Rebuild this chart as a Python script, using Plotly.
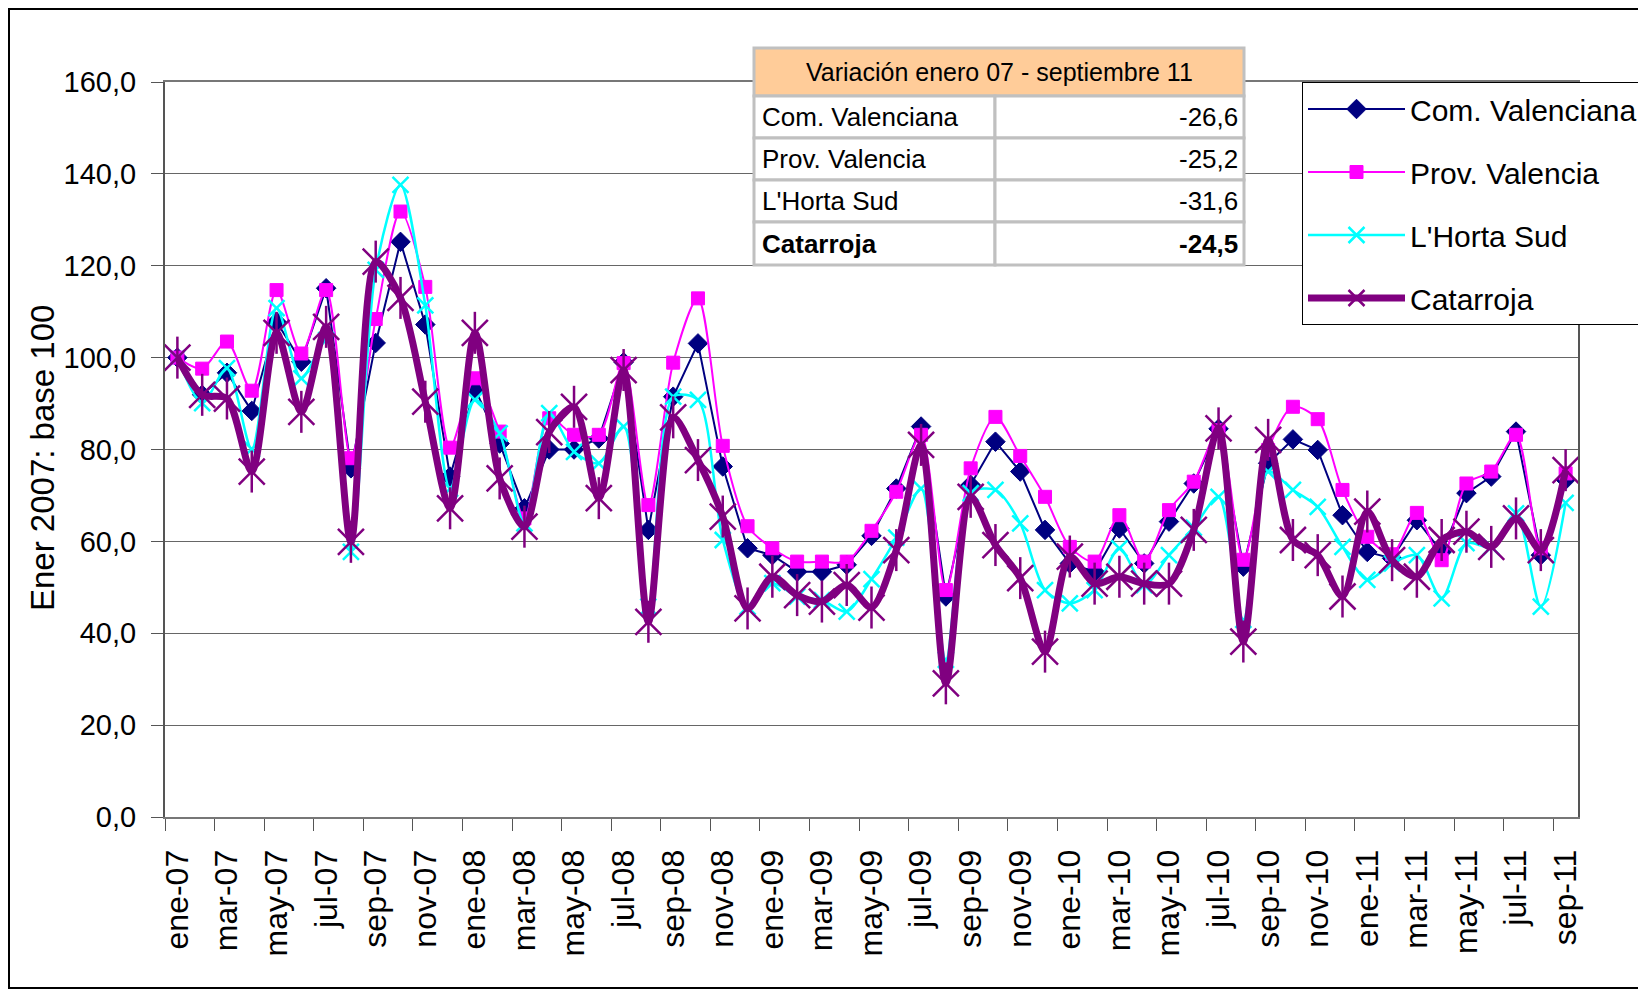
import plotly.graph_objects as go

# categorías (meses) y series
meses = [
    "ene-07", "feb-07", "mar-07", "abr-07", "may-07", "jun-07", "jul-07", "ago-07", "sep-07", "oct-07", "nov-07", "dic-07",
    "ene-08", "feb-08", "mar-08", "abr-08", "may-08", "jun-08", "jul-08", "ago-08", "sep-08", "oct-08", "nov-08", "dic-08",
    "ene-09", "feb-09", "mar-09", "abr-09", "may-09", "jun-09", "jul-09", "ago-09", "sep-09", "oct-09", "nov-09", "dic-09",
    "ene-10", "feb-10", "mar-10", "abr-10", "may-10", "jun-10", "jul-10", "ago-10", "sep-10", "oct-10", "nov-10", "dic-10",
    "ene-11", "feb-11", "mar-11", "abr-11", "may-11", "jun-11", "jul-11", "ago-11", "sep-11",
]

com_valenciana = [
    100.0, 91.9, 96.7, 88.4, 107.8, 99.1, 115.1, 75.9, 103.2, 125.2, 107.2, 74.1,
    93.3, 81.3, 67.2, 80.0, 80.0, 82.4, 99.0, 62.5, 91.5, 103.1, 76.3, 58.5,
    57.0, 53.4, 53.4, 54.9, 61.2, 71.5, 85.0, 48.0, 72.3, 81.7, 75.2, 62.5,
    55.2, 53.4, 62.8, 55.2, 64.3, 72.6, 84.5, 54.5, 77.0, 82.2, 79.9, 65.7,
    57.7, 56.3, 64.6, 57.7, 70.5, 74.1, 83.9, 57.0, 73.4,
]
prov_valencia = [
    100.0, 97.6, 103.5, 92.8, 114.7, 100.9, 114.7, 78.1, 108.4, 131.8, 115.4, 80.4,
    95.5, 83.9, 65.0, 86.8, 83.2, 83.2, 98.8, 67.9, 98.9, 112.9, 80.8, 63.3,
    58.5, 55.6, 55.6, 55.6, 62.3, 70.8, 83.2, 49.4, 75.9, 87.1, 78.6, 69.7,
    58.8, 55.6, 65.7, 55.6, 66.8, 73.0, 84.2, 56.0, 79.9, 89.3, 86.6, 71.2,
    61.0, 57.2, 66.2, 55.9, 72.6, 75.2, 83.2, 58.5, 74.8,
]
horta_sud = [
    100.0, 90.1, 97.7, 80.1, 110.8, 95.5, 103.8, 57.7, 119.1, 137.6, 111.4, 71.5,
    90.8, 83.5, 63.9, 87.9, 79.5, 77.0, 85.0, 45.8, 91.5, 90.8, 60.3, 45.8,
    50.9, 48.0, 47.2, 44.7, 51.8, 60.8, 71.5, 34.2, 70.5, 71.2, 63.9, 49.4,
    46.5, 49.4, 58.5, 50.5, 57.0, 63.0, 69.7, 42.9, 75.2, 71.2, 67.5, 58.8,
    51.6, 55.2, 57.0, 47.6, 59.6, 58.8, 66.1, 45.8, 68.4,
]
catarroja = [
    100.0, 91.9, 91.1, 75.2, 105.4, 88.2, 106.7, 59.9, 120.9, 113.0, 90.4, 67.2,
    105.4, 73.7, 63.2, 83.8, 89.3, 69.4, 97.3, 42.5, 87.0, 77.7, 65.4, 45.4,
    52.3, 48.3, 46.9, 50.5, 45.6, 58.1, 81.0, 29.1, 69.7, 59.2, 52.0, 36.0,
    56.7, 50.8, 52.3, 50.8, 50.8, 62.5, 84.6, 38.2, 82.1, 60.3, 57.0, 48.0,
    66.5, 55.9, 52.3, 60.3, 62.1, 58.8, 65.0, 58.1, 75.5,
]

# tabla de variación
tabla_titulo = "Variación enero 07 - septiembre 11"
tabla_nombres = ["Com. Valenciana", "Prov. Valencia", "L'Horta Sud", "Catarroja"]
tabla_valores = ["-26,6", "-25,2", "-31,6", "-24,5"]

# la página añade 8px de margen al body: todo se mide en px de pantalla y se resta OFF
OFF = 8
W, H = 1646 - OFF, 989 - OFF
ML, MT = 165 - OFF, 82 - OFF
MR, MB = W - (1578 - OFF), H - (817 - OFF)
PW, PH = W - ML - MR, H - MT - MB

FONT = "Liberation Sans, Arial, sans-serif"


def px(x):
    return (x - OFF - ML) / PW


def py(y):
    return (H - MB - (y - OFF)) / PH


fig = go.Figure()

estilos = [
    ("Com. Valenciana", com_valenciana, "#000080", 2, "linear", "diamond", 15, 1),
    ("Prov. Valencia", prov_valencia, "#FF00FF", 2, "spline", "square", 13, 1),
    ("L'Horta Sud", horta_sud, "#00FFFF", 2.5, "spline", "x-thin-open", 16, 2.5),
    ("Catarroja", catarroja, "#800080", 7, "spline", "x-thin-open", 26, 2.5),
]
for nombre, valores, color, ancho, forma, simbolo, tam, mlw in estilos:
    fig.add_trace(go.Scatter(
        x=meses, y=valores, name=nombre, mode="lines+markers",
        legendgroup=nombre,
        line=dict(color=color, width=ancho, shape=forma, smoothing=0.8),
        marker=dict(symbol=simbolo, size=tam, color=color,
                    line=dict(color=color, width=mlw)),
    ))
# brazo vertical de la estrella de Catarroja
fig.add_trace(go.Scatter(
    x=meses, y=catarroja, mode="markers", showlegend=False, legendgroup="Catarroja",
    hoverinfo="skip",
    marker=dict(symbol="line-ns-open", size=30, color="#800080",
                line=dict(color="#800080", width=2.5)),
))

# tabla con shapes + anotaciones
tx0, tx1, txm = 754, 1244, 995
ty = [48, 96, 138, 180, 222, 265]
shapes = [dict(type="rect", xref="paper", yref="paper",
               x0=px(tx0), x1=px(tx1), y0=py(ty[1]), y1=py(ty[0]),
               fillcolor="#FFCC99", line=dict(color="#C0C0C0", width=3), layer="above")]
for k in range(4):
    for a, b in ((tx0, txm), (txm, tx1)):
        shapes.append(dict(type="rect", xref="paper", yref="paper",
                           x0=px(a), x1=px(b), y0=py(ty[k + 2]), y1=py(ty[k + 1]),
                           fillcolor="white", line=dict(color="#C0C0C0", width=3), layer="above"))
# marco exterior del gráfico
shapes.append(dict(type="rect", xref="paper", yref="paper",
                   x0=px(OFF + 1), x1=px(1700), y0=py(988), y1=py(OFF + 1),
                   line=dict(color="black", width=2), layer="below"))

annotations = [dict(xref="paper", yref="paper", x=px((tx0 + tx1) / 2), y=py((ty[0] + ty[1]) / 2),
                    xanchor="center", yanchor="middle",
                    text=tabla_titulo, showarrow=False, font=dict(family=FONT, size=25, color="black"))]
for k, (n, v) in enumerate(zip(tabla_nombres, tabla_valores)):
    yc = py((ty[k + 1] + ty[k + 2]) / 2)
    if n == "Catarroja":
        n, v = "<b>" + n + "</b>", "<b>" + v + "</b>"
    annotations.append(dict(xref="paper", yref="paper", x=px(tx0 + 6), y=yc, xanchor="left", yanchor="middle",
                            text=n, showarrow=False, font=dict(family=FONT, size=26, color="black")))
    annotations.append(dict(xref="paper", yref="paper", x=px(tx1 - 4), y=yc, xanchor="right", yanchor="middle",
                            text=v, showarrow=False, font=dict(family=FONT, size=26, color="black")))
annotations.append(dict(xref="paper", yref="paper", x=px(42), y=py(458), textangle=-90,
                        xanchor="center", yanchor="middle",
                        text="Ener 2007: base 100", showarrow=False,
                        font=dict(family=FONT, size=33, color="black")))

fig.update_layout(
    width=W, height=H,
    margin=dict(l=ML, r=MR, t=MT, b=MB, autoexpand=False),
    paper_bgcolor="white", plot_bgcolor="white",
    separators=",.",
    showlegend=True,
    legend=dict(x=px(1302), y=1.0, xanchor="left", yanchor="top",
                bgcolor="white", bordercolor="black", borderwidth=1,
                font=dict(family=FONT, size=30, color="black"),
                tracegroupgap=21, itemwidth=97),
    shapes=shapes,
    annotations=annotations,
)
fig.update_xaxes(
    type="category", range=[-0.5, 56.5],
    tickmode="linear", tick0=0, dtick=2, tickson="boundaries",
    ticks="outside", ticklen=12, tickcolor="#555555",
    tickangle=-90, ticklabelstandoff=18,
    tickfont=dict(family=FONT, size=32, color="black"),
    showgrid=False, showline=True, linecolor="#777777", linewidth=2, mirror=True,
    zeroline=False,
)
fig.update_yaxes(
    range=[0, 160], dtick=20, tickformat=".1f",
    ticks="outside", ticklen=12, tickcolor="#555555", ticklabelstandoff=9,
    tickfont=dict(family=FONT, size=29, color="black"),
    showgrid=True, gridcolor="#666666", gridwidth=1,
    showline=True, linecolor="#555555", linewidth=2, mirror=True,
    zeroline=False,
)

fig.write_html("out.html")
